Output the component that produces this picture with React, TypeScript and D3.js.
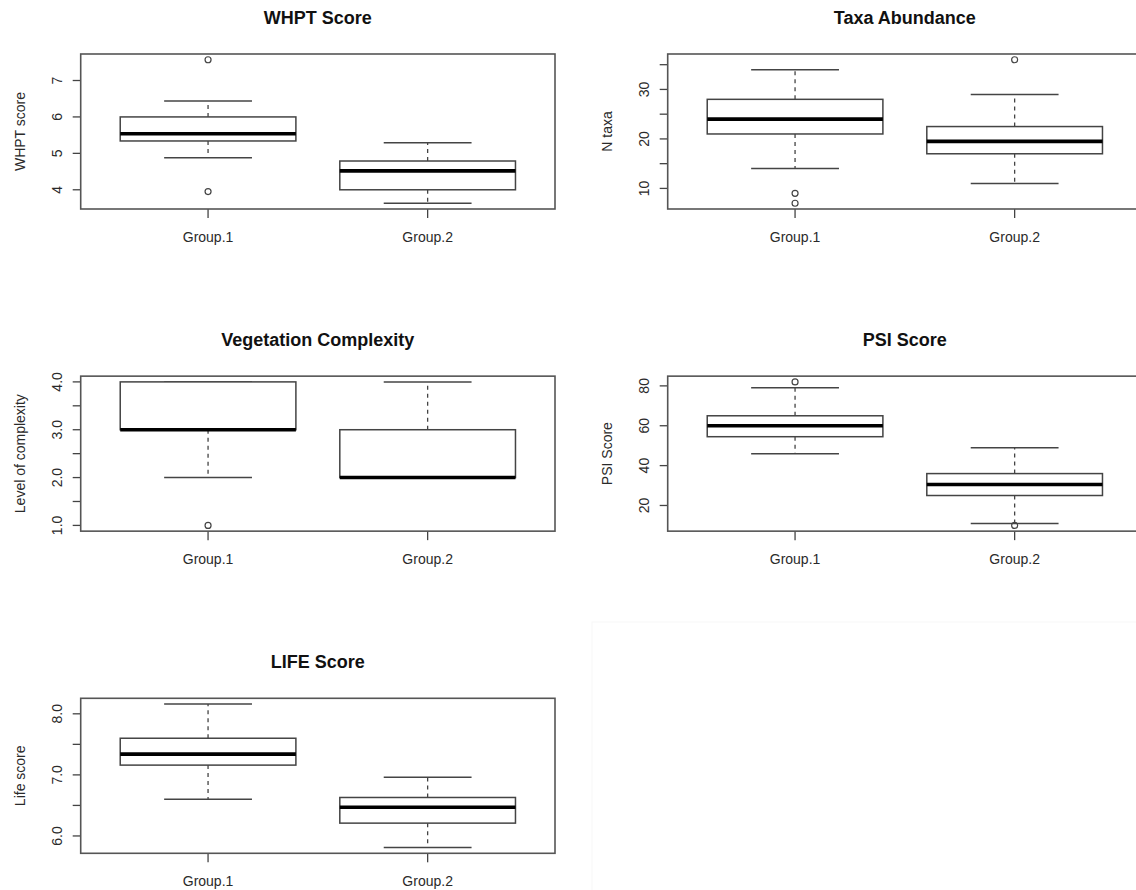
import React from "react";
import * as d3 from "d3";

// five-number summaries: [lower whisker, Q1, median, Q3, upper whisker]
const groups = ["Group.1", "Group.2"];

const whptStats = [[4.88, 5.34, 5.54, 6.0, 6.44], [3.63, 4.0, 4.52, 4.79, 5.29]];
const whptOutliers = [[3.95, 7.57], []];
const whptTicks = [4, 5, 6, 7];
const whptTickLabels = ["4", "5", "6", "7"];

const taxaStats = [[14, 21, 24, 28, 34], [11, 17, 19.5, 22.5, 29]];
const taxaOutliers = [[9, 7], [36]];
const taxaTicks = [10, 15, 20, 25, 30, 35];
const taxaTickLabels = ["10", "", "20", "", "30", ""];

const vegStats = [[2, 3, 3, 4, 4], [2, 2, 2, 3, 4]];
const vegOutliers = [[1], []];
const vegTicks = [1, 1.5, 2, 2.5, 3, 3.5, 4];
const vegTickLabels = ["1.0", "", "2.0", "", "3.0", "", "4.0"];

const psiStats = [[46, 54.5, 60, 65, 79], [11, 25, 30.5, 36, 49]];
const psiOutliers = [[82], [10]];
const psiTicks = [20, 40, 60, 80];
const psiTickLabels = ["20", "40", "60", "80"];

const lifeStats = [[6.6, 7.16, 7.34, 7.6, 8.16], [5.81, 6.21, 6.47, 6.63, 6.96]];
const lifeOutliers = [[], []];
const lifeTicks = [6, 6.5, 7, 7.5, 8];
const lifeTickLabels = ["6.0", "", "7.0", "", "8.0"];

const titles = ["WHPT Score", "Taxa Abundance", "Vegetation Complexity", "PSI Score", "LIFE Score"];
const yTitles = ["WHPT score", "N taxa", "Level of complexity", "PSI Score", "Life score"];

const panels = [
  { stats: whptStats, outliers: whptOutliers, ticks: whptTicks, labels: whptTickLabels },
  { stats: taxaStats, outliers: taxaOutliers, ticks: taxaTicks, labels: taxaTickLabels },
  { stats: vegStats, outliers: vegOutliers, ticks: vegTicks, labels: vegTickLabels },
  { stats: psiStats, outliers: psiOutliers, ticks: psiTicks, labels: psiTickLabels },
  { stats: lifeStats, outliers: lifeOutliers, ticks: lifeTicks, labels: lifeTickLabels },
];

const W = 1136, H = 890;
const stepX = 587, stepY = 322.15;
const plotL = 80.7, plotT = 54, plotW = 474.3, plotH = 155;
const font = "'Liberation Sans', Arial, Helvetica, sans-serif";
const ink = "#444";

function Panel({ idx }: { idx: number }) {
  const p = panels[idx];
  const col = idx % 2, row = Math.floor(idx / 2);
  const left = plotL + col * stepX;
  const top = plotT + row * stepY;

  // R style: data range padded by 4% on each side
  const all = p.stats.flat().concat(p.outliers.flat());
  const lo = d3.min(all) as number, hi = d3.max(all) as number;
  const pad = (hi - lo) * 0.04;
  const y = d3.scaleLinear().domain([lo - pad, hi + pad]).range([top + plotH, top]);
  const x = d3.scaleLinear().domain([0.42, 2.58]).range([left, left + plotW]);
  const halfBox = x(1.4) - x(1);
  const halfCap = x(1.2) - x(1);

  return (
    <g>
      <text x={left + plotW / 2} y={top - 30} textAnchor="middle" fontFamily={font}
        fontWeight="bold" fontSize={18} fill="#111">{titles[idx]}</text>
      <text transform={`translate(${left - 55.7},${top + plotH / 2}) rotate(-90)`}
        textAnchor="middle" fontFamily={font} fontSize={14} fill="#2a2a2a">{yTitles[idx]}</text>

      {p.ticks.map((t, i) => (
        <g key={"yt" + i}>
          <line x1={left - 8} x2={left} y1={y(t)} y2={y(t)} stroke={ink} strokeWidth={1.3} />
          {p.labels[i] && (
            <text transform={`translate(${left - 19},${y(t)}) rotate(-90)`} textAnchor="middle"
              fontFamily={font} fontSize={14} fill="#2a2a2a">{p.labels[i]}</text>
          )}
        </g>
      ))}

      {groups.map((g, gi) => {
        const cx = x(gi + 1);
        const [wl, q1, md, q3, wh] = p.stats[gi];
        return (
          <g key={g}>
            <line x1={cx} x2={cx} y1={top + plotH} y2={top + plotH + 9} stroke={ink} strokeWidth={1.3} />
            <text x={cx} y={top + plotH + 32.7} textAnchor="middle" fontFamily={font}
              fontSize={14} fill="#2a2a2a">{g}</text>
            <line x1={cx} x2={cx} y1={y(q3)} y2={y(wh)} stroke={ink} strokeWidth={1.3} strokeDasharray="4 4" />
            <line x1={cx} x2={cx} y1={y(q1)} y2={y(wl)} stroke={ink} strokeWidth={1.3} strokeDasharray="4 4" />
            <line x1={cx - halfCap} x2={cx + halfCap} y1={y(wh)} y2={y(wh)} stroke={ink} strokeWidth={1.5} />
            <line x1={cx - halfCap} x2={cx + halfCap} y1={y(wl)} y2={y(wl)} stroke={ink} strokeWidth={1.5} />
            <rect x={cx - halfBox} y={y(q3)} width={2 * halfBox} height={y(q1) - y(q3)}
              fill="white" stroke={ink} strokeWidth={1.5} />
            <line x1={cx - halfBox} x2={cx + halfBox} y1={y(md)} y2={y(md)} stroke="#000" strokeWidth={3.6} />
            {p.outliers[gi].map((o, oi) => (
              <circle key={oi} cx={cx} cy={y(o)} r={3} fill="none" stroke={ink} strokeWidth={1.2} />
            ))}
          </g>
        );
      })}

      <rect x={left} y={top} width={plotW} height={plotH} fill="none" stroke="#555" strokeWidth={1.6} />
    </g>
  );
}

export default function App() {
  return (
    <svg width={W} height={H} style={{ position: "absolute", left: 0, top: 0, background: "white" }}>
      <rect x={0} y={0} width={W} height={H} fill="white" />
      <rect x={592} y={622} width={560} height={280} fill="none" stroke="#f7f7f7" strokeWidth={1} />
      {panels.map((_, i) => <Panel key={i} idx={i} />)}
    </svg>
  );
}
